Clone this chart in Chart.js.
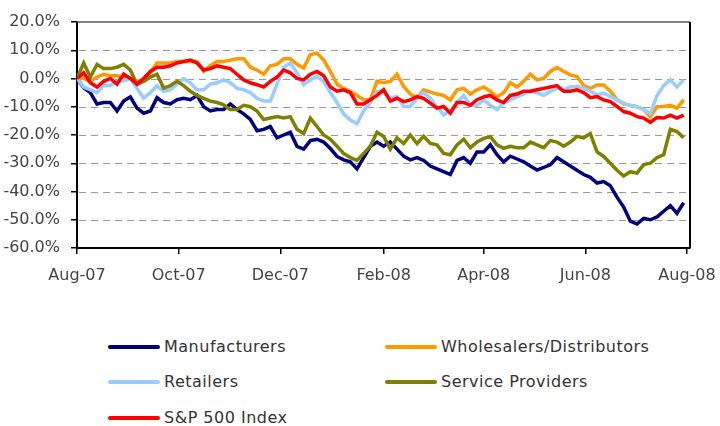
<!DOCTYPE html>
<html lang="en">
<head>
    <meta charset="UTF-8">
    <title>Sector stock performance</title>
    <script src="https://cdn.jsdelivr.net/npm/chart.js"></script>
    <style>
        body { margin: 0; background: #fff; }
        #wrap { position: relative; width: 720px; height: 426px; }
        #chart { position: absolute; left: 0; top: 0; }
        .item {
            position: absolute;
            height: 20px;
            line-height: 20px;
            font-family: 'DejaVu Sans', sans-serif;
            font-size: 16px;
            color: #333;
            letter-spacing: 0.5px;
            white-space: nowrap;
        }
        .swatch { display: inline-block; vertical-align: middle; width: 52px; height: 4px; border-radius: 2px; margin: 0 4px 2px 0; }
    </style>
</head>
<body>
<div id="wrap">
    <canvas id="chart" width="720" height="300"></canvas>
    <div id="legend"></div>
</div>
<script>
// days since 1 Aug 2007
const days = [0, 4, 8, 12, 16, 20, 24, 28, 32, 36, 40, 44, 48, 52, 56, 60, 64, 68, 72, 76,
    80, 84, 88, 92, 96, 100, 104, 108, 112, 116, 120, 124, 128, 132, 136, 140, 144, 148, 152, 156,
    160, 164, 168, 172, 176, 180, 184, 188, 192, 196, 200, 204, 208, 212, 216, 220, 224, 228, 232, 236,
    240, 244, 248, 252, 256, 260, 264, 268, 272, 276, 280, 284, 288, 292, 296, 300, 304, 308, 312, 316,
    320, 324, 328, 332, 336, 340, 344, 348, 352, 356, 360, 364];

const manufacturers = [0, -3.3, -5, -9, -8.5, -8.5, -11.5, -8, -6.5, -10.5, -12.3, -11.5, -6.8, -8.5, -9, -7.5, -7, -7.5, -6, -10,
    -11.5, -11, -11, -9, -11, -12.5, -14.5, -18.5, -18, -17, -21, -20, -19, -24, -25, -22, -21.5, -22.5, -24.8, -27.6,
    -28.8, -29.5, -32, -28, -24, -22.5, -24, -22.5, -25, -27.5, -28.8, -28, -29, -31, -32, -33, -34, -29, -28, -30,
    -26, -26, -23.5, -27, -29.5, -27.5, -28.5, -29.5, -31, -32.4, -31.5, -30.5, -28, -29.5, -31, -32.5, -34, -35, -37, -36.5,
    -38, -42, -45.5, -50.5, -51.5, -49.5, -50, -49, -47, -45, -47.7, -44];

const wholesalers = [0, 0, -1, 0.5, 1.5, 1, 1, 0.5, 0, -1, -0.5, 2, 5.5, 5.5, 5.5, 6, 6, 6, 6, 2.5,
    4.5, 6, 6, 6.5, 7, 7, 4, 3, 1.5, 4.5, 5, 7, 7, 5, 3.7, 8.5, 9, 6.5, 2.5, -2,
    -3.5, -4.5, -6, -7.5, -7.5, -1, -1.5, -1, 1.5, -2.8, -5.5, -7, -4, -4.8, -5.5, -6, -7.6, -4, -3.5, -5.5,
    -4, -3, -4.5, -6.5, -5, -1.5, -3, -1, 1.5, -0.5, 0, 2.5, 4, 2.5, 1.3, 0.7, -2.5, -3.5, -2.3, -2.3,
    -4.5, -7.5, -9, -9.5, -10, -11, -13.5, -10, -9.9, -9.5, -10.5, -7.6];

const retailers = [0, -3, -4, -5, -2.5, -2.5, -1, -0.8, 0, -3.5, -7, -5, -2.5, -4.5, -4, -2, 0, -1.5, -4, -4,
    -2, -1.5, -0.5, -1.5, -3.5, -4, -5, -7, -8, -8, -2, 4, 5.5, 2, -2.2, -0.5, 0.7, -1, -5, -8.5,
    -12.5, -14.7, -16, -11.5, -8.5, -4.5, -5.2, -6.8, -6.4, -9.9, -9.9, -7, -5, -7, -10, -12.9, -11.5, -8.5, -6, -9.5,
    -9.5, -7.6, -9.5, -11, -8.7, -7.6, -6.4, -5.5, -4.5, -5, -6, -4.5, -3.5, -4, -3, -2.8, -3.4, -4.5, -5.8, -5.2,
    -6.4, -7.5, -8.7, -9.5, -10, -11, -12.5, -6, -2.5, -0.5, -3, -0.5];

const serviceProviders = [0, 5.5, 0.5, 5, 3.5, 3.5, 4, 5, 3, -2, -1, 0.5, 1.5, -3.4, -2.5, -1, -2.5, -4.5, -6, -7,
    -8, -8.5, -9.3, -11, -11, -9.5, -10, -11.5, -14.5, -14, -13.5, -14, -13.5, -18, -19.5, -14, -17, -20, -21.5, -24,
    -26.5, -28, -29, -26.5, -24, -19, -20.5, -25, -21, -23, -20, -23, -20.5, -23, -23.5, -26.5, -27, -23.5, -21.5, -24.5,
    -22.5, -21.2, -20.6, -23.5, -24.7, -24, -24.5, -24.5, -22.5, -23.5, -24.5, -22, -22.5, -24, -22.5, -20.5, -21, -19.5, -26, -27.6,
    -30, -32.5, -34.5, -33, -33.5, -30.5, -30, -28, -27, -18, -18.8, -21];

const sp500 = [0, 2, -1.5, -3, -1, 0, -2, 1.5, 0, -2, 0, 2.5, 4, 4, 4.5, 5.5, 6, 6.5, 5.5, 3,
    3.5, 4.5, 4, 3.5, 1.5, -0.5, -1.5, -2.2, -3, -1, 0.5, 3, 2, 0, -0.5, 1.5, 2.5, 1, -3, -4.5,
    -4, -5, -9, -9, -7.5, -6, -4, -8, -7, -8.2, -7.6, -6.4, -7, -8.7, -10.5, -9.9, -12.3, -8.5, -8.5, -9.5,
    -7.5, -6.5, -6, -7.6, -8.5, -6, -5.5, -4.5, -4.5, -4, -3.5, -3, -2.5, -4.5, -4.5, -4, -5, -6.8, -6.4, -7.6,
    -8.2, -9.9, -11.7, -12.3, -13.5, -14, -15.5, -13.8, -14, -13, -14, -13];

const tickDays = [0, 61, 122, 184, 244, 305, 366];
const tickLabels = ['Aug-07', 'Oct-07', 'Dec-07', 'Feb-08', 'Apr-08', 'Jun-08', 'Aug-08'];

const seriesNames = ['Manufacturers', 'Wholesalers/Distributors', 'Retailers', 'Service Providers', 'S&P 500 Index'];
const seriesData = [manufacturers, wholesalers, retailers, serviceProviders, sp500];
const seriesColors = ['#000080', '#FF9900', '#99CCFF', '#808000', '#FF0000'];

Chart.defaults.font.family = "'DejaVu Sans', sans-serif";
Chart.defaults.font.size = 16;

// dashed horizontal grid under the lines
const gridPlugin = {
    id: 'dashGrid',
    beforeDatasetsDraw(chart) {
        const { ctx, chartArea: a, scales: { y } } = chart;
        ctx.save();
        ctx.lineWidth = 1;
        ctx.strokeStyle = '#999';
        ctx.setLineDash([7, 5]);
        y.ticks.forEach(t => {
            const py = Math.round(y.getPixelForValue(t.value)) + 0.5;
            if (py <= a.top + 1 || py >= a.bottom - 1) return;
            ctx.beginPath();
            ctx.moveTo(a.left + 2, py);
            ctx.lineTo(a.right, py);
            ctx.stroke();
        });
        ctx.restore();
    }
};

// top + right edge of the plot box
const framePlugin = {
    id: 'frame',
    afterDraw(chart) {
        const { ctx, chartArea: a } = chart;
        ctx.save();
        ctx.lineWidth = 1.5;
        ctx.strokeStyle = '#555';
        ctx.beginPath();
        ctx.moveTo(a.left, a.top);
        ctx.lineTo(a.right, a.top);
        ctx.stroke();
        ctx.lineWidth = 2;
        ctx.strokeStyle = '#000';
        ctx.beginPath();
        ctx.moveTo(a.right, a.top);
        ctx.lineTo(a.right, a.bottom);
        ctx.stroke();
        ctx.restore();
    }
};

const datasets = seriesNames.map((name, i) => ({
    label: name,
    data: days.map((d, j) => ({ x: d, y: seriesData[i][j] })),
    borderColor: seriesColors[i],
    backgroundColor: seriesColors[i],
    borderWidth: 3.5,
    pointRadius: 0,
    order: seriesNames.length - i
}));

const chart = new Chart(document.getElementById('chart'), {
    type: 'line',
    data: { datasets: datasets },
    options: {
        responsive: false,
        animation: false,
        layout: { padding: { top: 22, right: 30, left: 0, bottom: 0 } },
        plugins: { legend: { display: false }, tooltip: { enabled: false } },
        scales: {
            x: {
                type: 'linear',
                min: 0,
                max: 367.8,
                afterBuildTicks: s => { s.ticks = tickDays.map(v => ({ value: v })); },
                afterFit: s => { s.height = 52; s.paddingRight = 0; },
                ticks: {
                    autoSkip: false,
                    maxRotation: 0,
                    padding: 12,
                    color: '#444',
                    callback: v => tickLabels[tickDays.indexOf(v)]
                },
                grid: { drawOnChartArea: false, tickLength: 6, color: '#000', lineWidth: 1.5 },
                border: { color: '#000', width: 2 }
            },
            y: {
                min: -60,
                max: 20,
                afterFit: s => { s.width = 77; },
                ticks: {
                    stepSize: 10,
                    padding: 11,
                    color: '#444',
                    callback: v => v.toFixed(1) + '%'
                },
                grid: { drawOnChartArea: false, tickLength: 6, color: '#000', lineWidth: 1.5 },
                border: { color: '#000', width: 2 }
            }
        }
    },
    plugins: [gridPlugin, framePlugin]
});

// two-column legend below the plot
const legendBox = document.getElementById('legend');
const colLeft = [108, 385];
const rowMid = [347, 382, 418];
datasets.forEach((ds, i) => {
    const item = document.createElement('div');
    item.className = 'item';
    item.style.left = colLeft[i % 2] + 'px';
    item.style.top = (rowMid[Math.floor(i / 2)] - 10) + 'px';
    const sw = document.createElement('span');
    sw.className = 'swatch';
    sw.style.background = ds.borderColor;
    item.appendChild(sw);
    item.appendChild(document.createTextNode(ds.label));
    legendBox.appendChild(item);
});
</script>
</body>
</html>
